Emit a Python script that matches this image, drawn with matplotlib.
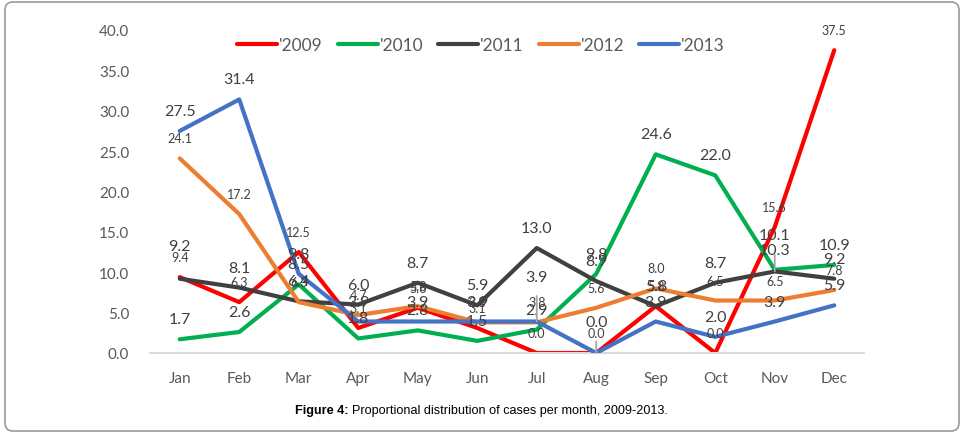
import matplotlib
matplotlib.use("Agg")
import matplotlib.pyplot as plt
from matplotlib.patches import FancyBboxPatch
from matplotlib.transforms import IdentityTransform

months = ["Jan", "Feb", "Mar", "Apr", "May", "Jun", "Jul", "Aug", "Sep", "Oct", "Nov", "Dec"]
years = ["'2009", "'2010", "'2011", "'2012", "'2013"]

y2009 = [9.4, 6.3, 12.5, 3.1, 5.6, 3.1, 0.0, 0.0, 5.8, 0.0, 15.6, 37.5]
y2010 = [1.7, 2.6, 8.5, 1.8, 2.8, 1.5, 2.9, 9.8, 24.6, 22.0, 10.3, 10.9]
y2011 = [9.2, 8.1, 6.4, 6.0, 8.7, 5.9, 13.0, 8.9, 5.8, 8.7, 10.1, 9.2]
y2012 = [24.1, 17.2, 6.3, 4.7, 5.8, 3.8, 3.8, 5.6, 8.0, 6.5, 6.5, 7.8]
y2013 = [27.5, 31.4, 9.8, 3.9, 3.9, 3.9, 3.9, 0.0, 3.9, 2.0, 3.9, 5.9]

series = [y2009, y2010, y2011, y2012, y2013]
colors = ["#ff0000", "#00b050", "#404040", "#ed7d31", "#4472c4"]
label_size = [9, 11.5, 11.5, 9, 11.5]

# labels that were dragged further up in the original (series index, month index) -> pixels
moved = {(4, 6): 45, (4, 7): 31, (2, 10): 36, (2, 0): 33}

W, H = 967, 439
fig = plt.figure(figsize=(W / 100, H / 100), dpi=100)
fig.patch.set_facecolor("white")

border = FancyBboxPatch((5, H - 432), 954, 429, boxstyle="round,pad=0,rounding_size=8",
                        transform=IdentityTransform(), facecolor="none",
                        edgecolor="#9a9a9a", linewidth=1.2)
fig.add_artist(border)

ax = fig.add_axes([150 / W, 85 / H, 714 / W, 323 / H])
x = list(range(len(months)))

for i, vals in enumerate(series):
    ax.plot(x, vals, color=colors[i], lw=3, label=years[i],
            solid_joinstyle="round", solid_capstyle="round", zorder=2 + i)

for i, vals in enumerate(series):
    for j, v in enumerate(vals):
        off = moved.get((i, j), 20)
        kw = {}
        if (i, j) in moved and (i, j) != (2, 0):
            kw["arrowprops"] = dict(arrowstyle="-", color="#a6a6a6", lw=1.3,
                                    shrinkA=7, shrinkB=0)
        ax.annotate(f"{v:.1f}", (j, v), xytext=(0, off), textcoords="offset pixels",
                    ha="center", va="center", fontsize=label_size[i],
                    color="#404040", family="Lato", zorder=10, **kw)

ax.set_xlim(-0.5, 11.5)
ax.set_ylim(0, 40)
ax.set_yticks(range(0, 41, 5))
ax.set_yticklabels([f"{t:.1f}" for t in range(0, 41, 5)])
ax.set_xticks(x)
ax.set_xticklabels(months)
ax.tick_params(axis="both", length=0, colors="#595959", labelsize=11)
ax.tick_params(axis="y", pad=15)
ax.tick_params(axis="x", pad=13)
for t in ax.get_xticklabels() + ax.get_yticklabels():
    t.set_family("Lato")
for s in ["top", "right", "left"]:
    ax.spines[s].set_visible(False)
ax.spines["bottom"].set_color("#d9d9d9")
ax.spines["bottom"].set_linewidth(1.5)
ax.set_facecolor("none")

leg = fig.legend(loc="center", bbox_to_anchor=(481 / W, 1 - 46 / H), ncol=5,
                 frameon=False, handlelength=2.3, handletextpad=0.12,
                 columnspacing=0.85, prop={"family": "Lato", "size": 12.5})
for t in leg.get_texts():
    t.set_color("#595959")

# caption with bold prefix
r = fig.canvas.get_renderer()
cap_y = 1 - 411 / H
t1 = fig.text(295 / W, cap_y, "Figure 4:", fontsize=9.1, fontweight="bold",
              family="Liberation Sans", va="center", ha="left")
bb = t1.get_window_extent(renderer=r)
fig.text((bb.x1 + 3) / W, cap_y, "Proportional distribution of cases per month, 2009-2013.",
         fontsize=9.1, family="Liberation Sans", va="center", ha="left")

fig.savefig("out.png", dpi=100)
